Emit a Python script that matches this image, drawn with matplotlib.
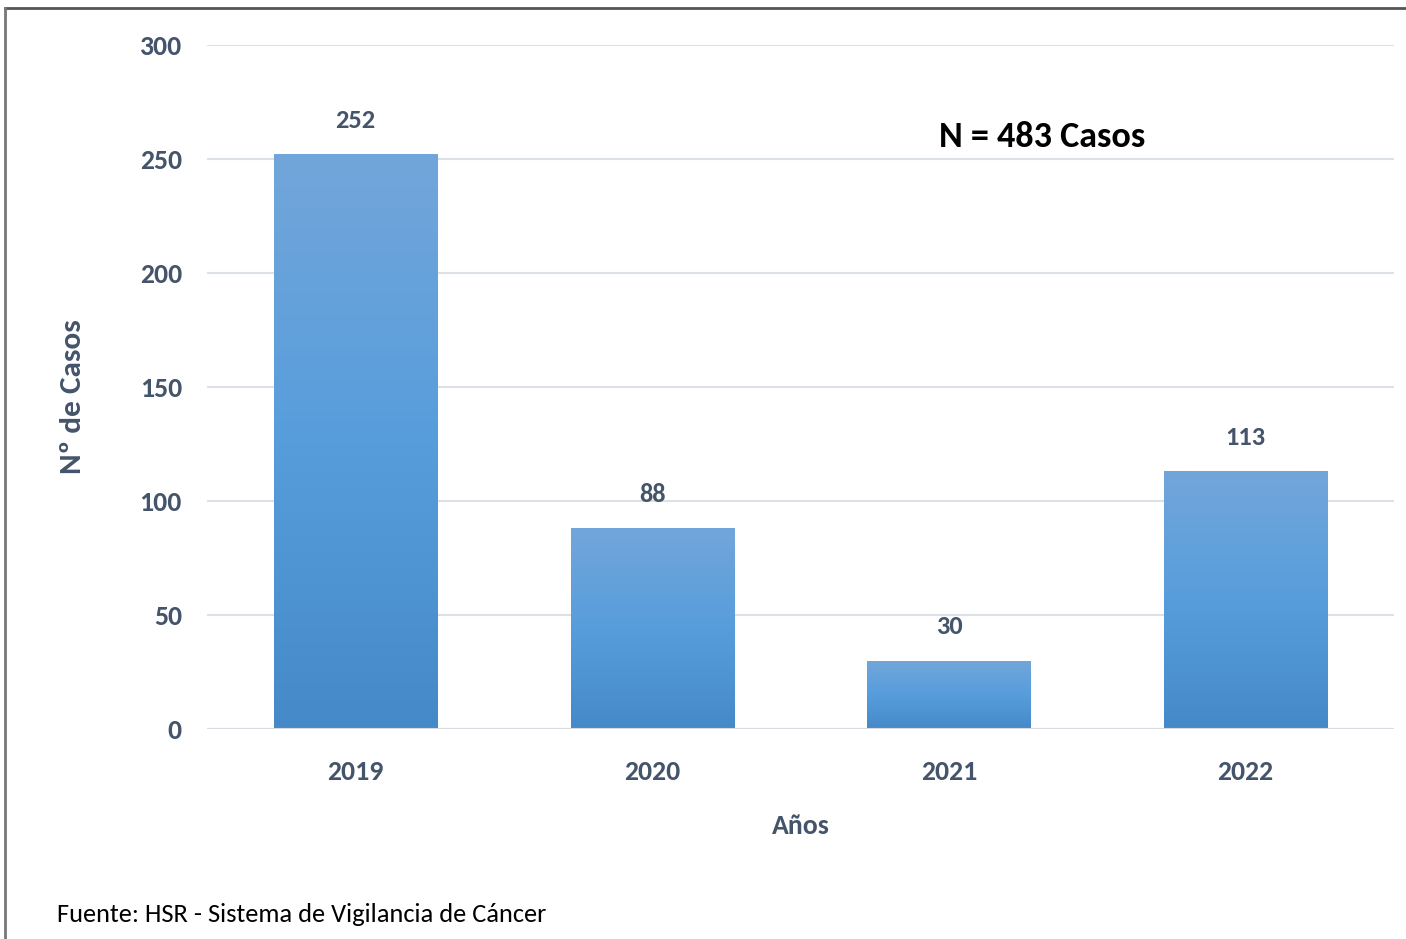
import numpy as np
import matplotlib
matplotlib.use("Agg")
from matplotlib import pyplot as plt
from matplotlib.colors import LinearSegmentedColormap
from matplotlib.lines import Line2D

years = ['2019', '2020', '2021', '2022']
casos = [252, 88, 30, 113]
total_label = 'N = 483 Casos'
fuente = 'Fuente: HSR - Sistema de Vigilancia de Cáncer'

plt.rcParams['font.family'] = ['Carlito', 'DejaVu Sans']
txt_color = '#44546A'

fig = plt.figure(figsize=(14.06, 9.39), dpi=100)
ax = fig.add_axes([0.1472, 0.2236, 0.8443, 0.7285])

x = np.arange(len(years))
bars = ax.bar(x, casos, width=0.55, color='none', zorder=3)

# degradado vertical en cada barra
grad = LinearSegmentedColormap.from_list('g', ['#4589C8', '#579DDC', '#72A6DA'])
g = np.linspace(0, 1, 256).reshape(-1, 1)
for b in bars:
    x0, y0 = b.get_x(), b.get_y()
    w, h = b.get_width(), b.get_height()
    im = ax.imshow(g, cmap=grad, origin='lower', aspect='auto',
                   extent=[x0, x0 + w, y0, y0 + h], zorder=3)
    im.set_clip_path(b)
    ax.annotate(str(int(h)), (x0 + w / 2, h), xytext=(0, 19), textcoords='offset points',
                ha='center', va='baseline', fontsize=19, fontweight='bold', color=txt_color)

ax.set_xlim(-0.5, len(years) - 0.5)
ax.set_ylim(0, 300)
ax.set_yticks(range(0, 301, 50))
ax.set_xticks(x)
ax.set_xticklabels(years)
ax.yaxis.grid(True, color='#DCE1E8', lw=1.5, zorder=0)
ax.set_axisbelow(True)
for s in ax.spines.values():
    s.set_visible(False)
ax.axhline(0, color='#D9DDE3', lw=1.5, zorder=4)
ax.tick_params(axis='both', length=0, labelsize=20, labelcolor=txt_color)
ax.tick_params(axis='y', pad=18)
ax.tick_params(axis='x', pad=22)
for lbl in ax.get_xticklabels() + ax.get_yticklabels():
    lbl.set_fontweight('bold')

ax.set_xlabel('Años', fontsize=20, fontweight='bold', color=txt_color, labelpad=22)
fig.text(0.052, 0.578, 'Nº de Casos', rotation=90, ha='center', va='center',
         fontsize=22.5, fontweight='bold', color=txt_color)

ax.text(2.315, 259.6, total_label, ha='center', va='center', fontsize=26,
        fontweight='bold', color='black')

fig.text(57 / 1406, 1 - 914 / 939, fuente, ha='left', va='center', fontsize=19, color='black')

# marco
fig.add_artist(Line2D([5 / 1406, 1], [1 - 8 / 939, 1 - 8 / 939], color='#555555', lw=2,
                      transform=fig.transFigure))
fig.add_artist(Line2D([5 / 1406, 5 / 1406], [0, 1 - 8 / 939], color='#777777', lw=2,
                      transform=fig.transFigure))

fig.savefig('out.png', dpi=100)
